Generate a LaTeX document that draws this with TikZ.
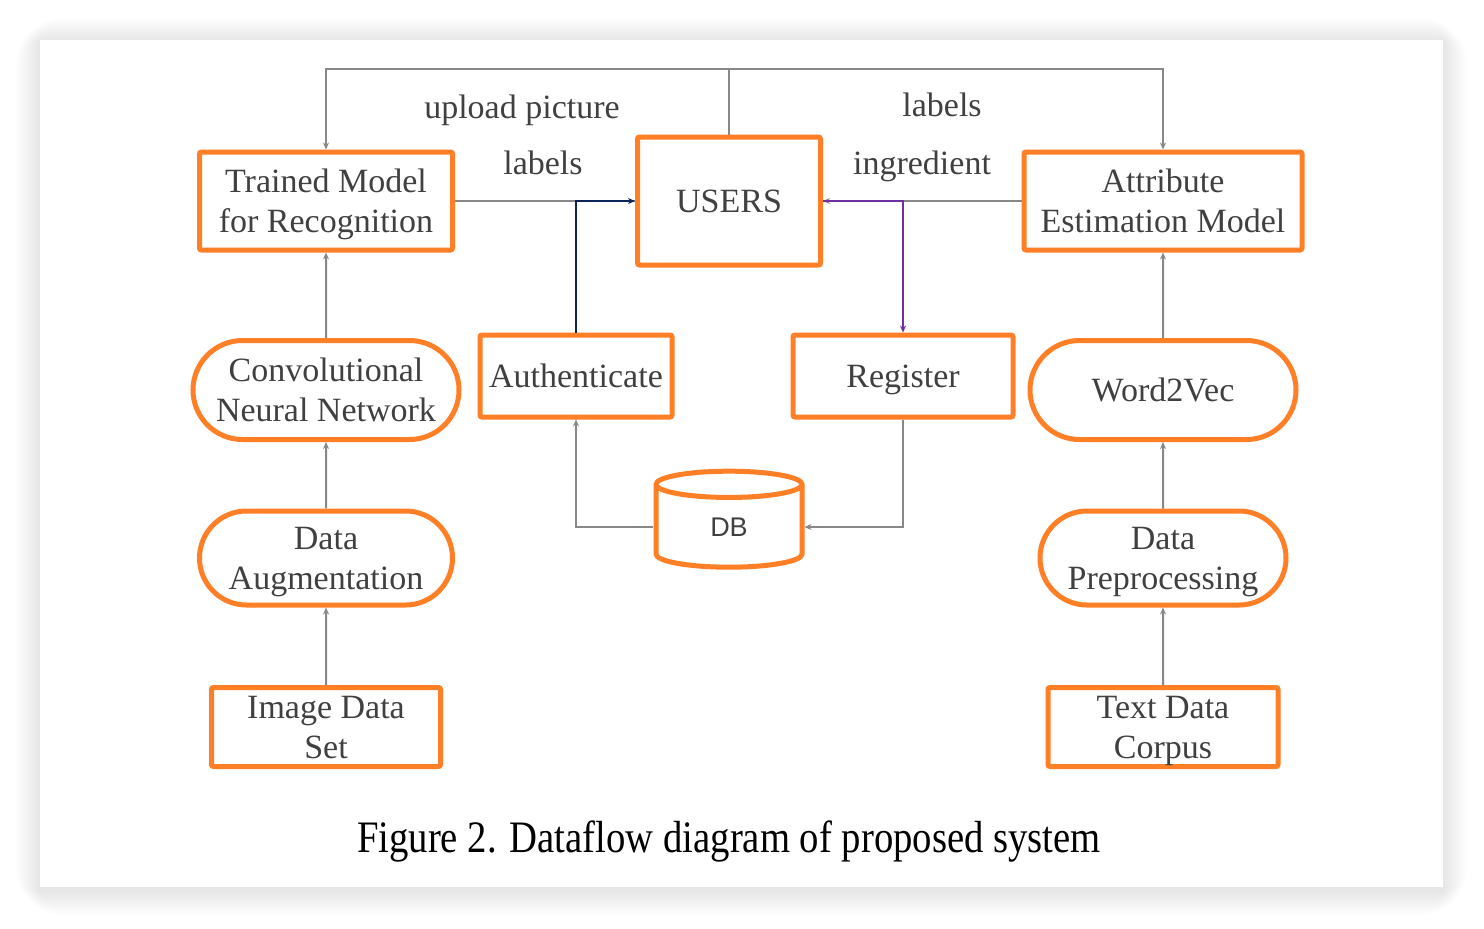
\documentclass[tikz,border=0pt]{standalone}
\usepackage{graphicx}
\usepackage{fontspec}
\setmainfont{Liberation Serif}
\newfontfamily\dbfont{Liberation Sans}
\usetikzlibrary{arrows.meta,shapes.misc,shapes.geometric}
\definecolor{boxorange}{HTML}{FF7F27}
\definecolor{txtgray}{HTML}{404040}
\definecolor{linegray}{HTML}{888888}
\definecolor{authnavy}{HTML}{0B2358}
\definecolor{regpurple}{HTML}{7030A0}
\tikzset{
  sqbox/.style={draw=boxorange,line width=2.5pt,rounded corners=1pt,inner sep=0pt,align=center,text=txtgray,
    text depth=0pt,font=\fontsize{17}{20}\selectfont},
  rdbox/.style={sqbox,rounded rectangle,rounded corners=0pt},
  flow/.style={draw=linegray,line width=1pt,-{Stealth[length=3.5pt,width=3pt]}},
  flowplain/.style={draw=linegray,line width=1pt},
  lbl/.style={text=txtgray,text depth=0pt,font=\fontsize{17}{20}\selectfont}
}
\begin{document}
\begin{tikzpicture}[x=0.5pt,y=-0.5pt]
\useasboundingbox (0,0) rectangle (1484,928);
%page
\fill[white] (0,0) rectangle (1484,928);
\foreach \s in {1,...,12}
  \fill[black,opacity=0.009,rounded corners=2*\s] ({40-2*\s},{42-2*\s}) rectangle ({1443+2*\s},{891+2*\s});
\fill[white] (40,40) rectangle (1443,887);
%boxes
\node[sqbox,minimum width=126.5pt,minimum height=49pt] (tm) at (326,201) {Trained Model\\for Recognition};
\node[sqbox,minimum width=91.5pt,minimum height=64pt] (users) at (729,201) {USERS};
\node[sqbox,minimum width=139pt,minimum height=49pt] (attr) at (1163,201) {Attribute\\Estimation Model};
\node[sqbox,minimum width=96pt,minimum height=41pt] (auth) at (576,376) {Authenticate};
\node[sqbox,minimum width=110pt,minimum height=41pt] (reg) at (903,376) {Register};
\node[rdbox,minimum width=133pt,minimum height=49.5pt] (cnn) at (326,390) {Convolutional\\Neural Network};
\node[rdbox,minimum width=133pt,minimum height=49.5pt] (wvec) at (1163,390) {Word2Vec};
\node[rdbox,minimum width=126.5pt,minimum height=47pt] (daug) at (326,558) {Data\\Augmentation};
\node[rdbox,minimum width=123pt,minimum height=47pt] (dpre) at (1163,558) {Data\\Preprocessing};
\node[sqbox,minimum width=114.5pt,minimum height=39.5pt] (img) at (326,727) {Image Data\\Set};
\node[sqbox,minimum width=115pt,minimum height=39.5pt] (corpus) at (1163,727) {Text Data\\Corpus};
\node[cylinder,shape border rotate=90,aspect=0.7,draw=boxorange,line width=2.5pt,minimum width=73pt,minimum height=48pt,
  inner sep=0pt,text=txtgray,font=\dbfont\fontsize{13.5}{15}\selectfont] (db) at (729,527) {DB};
%links
\coordinate (top) at (729,69);
\draw[flowplain] (users.north) -- (top);
\draw[flow] (top) -| (tm.north);
\draw[flow] (top) -| (attr.north);
\draw[flowplain] (tm.east) -- (users.west);
\draw[flow,draw=authnavy] (auth.north) |- (users.west);
\draw[flow] (attr.west) -- (users.east);
\draw[flow,draw=regpurple] (users.east) -| (reg.north);
\draw[flow] (cnn) -- (tm);
\draw[flow] (daug) -- (cnn);
\draw[flow] (img) -- (daug);
\draw[flow] (wvec) -- (attr);
\draw[flow] (dpre) -- (wvec);
\draw[flow] (corpus) -- (dpre);
\draw[flow] (db.west) -| (auth.south);
\draw[flow] (reg.south) |- (db.east);
%labels
\node[lbl] (up) at (522,107) {upload picture};
\node[lbl] (labl) at (543,163) {labels};
\node[lbl] (labr) at (942,105) {labels};
\node[lbl] (ingr) at (922,163) {ingredient};
\node[font=\fontsize{22.5}{26}\selectfont] (cap) at (729,841) {\scalebox{0.86}[1]{Figure 2. Dataflow diagram of proposed system}};
\end{tikzpicture}
\end{document}
